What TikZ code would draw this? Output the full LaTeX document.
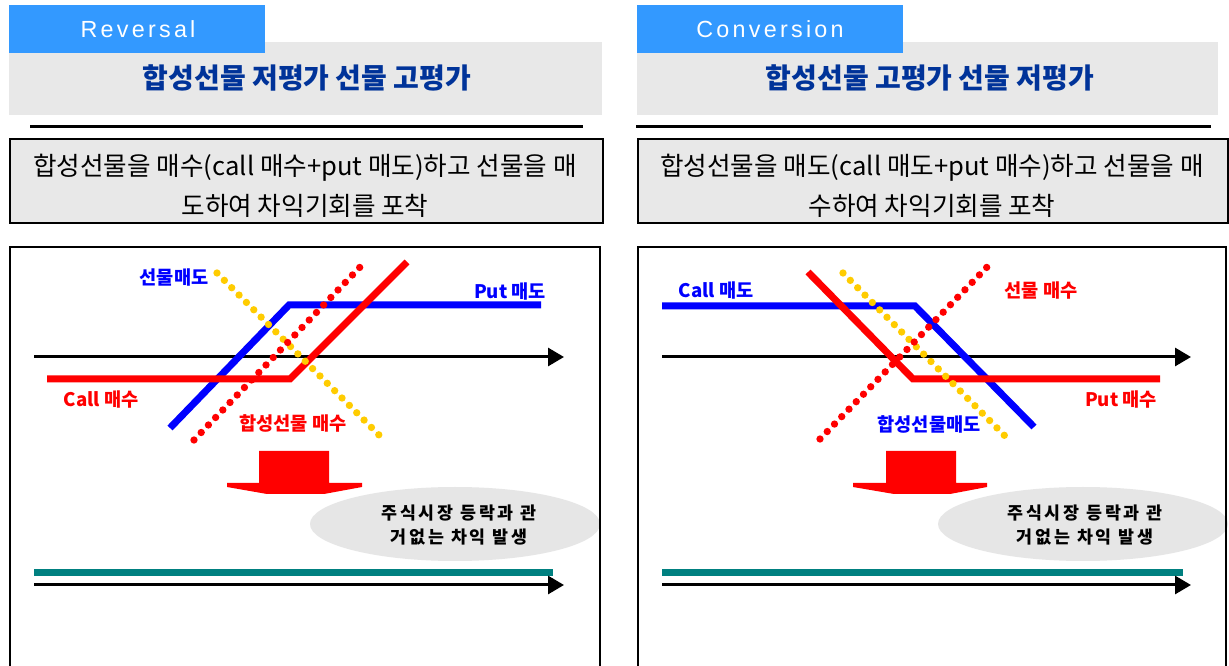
\documentclass[tikz,border=0pt]{standalone}
\usepackage{fontspec}
\setmainfont{Noto Sans CJK KR}
\newfontfamily\tabfont[LetterSpace=14]{Liberation Sans}
\newfontfamily\elfont[LetterSpace=16]{Noto Sans CJK KR}
\usetikzlibrary{arrows.meta}
\definecolor{tabblue}{HTML}{3399FF}
\definecolor{hgray}{HTML}{E8E8E8}
\definecolor{titleblue}{HTML}{003399}
\definecolor{lblue}{HTML}{0000FF}
\definecolor{lred}{HTML}{FF0000}
\definecolor{lyellow}{HTML}{FFCC00}
\definecolor{lteal}{HTML}{008080}
\definecolor{egray}{HTML}{E6E6E6}
\begin{document}
\begin{tikzpicture}[x=0.75pt,y=-0.75pt,
  tabbox/.style={fill=tabblue},
  headbox/.style={fill=hgray},
  tabtext/.style={text=white,font=\tabfont\fontsize{17.5}{20}\selectfont,inner sep=0pt},
  titletext/.style={text=titleblue,font=\bfseries\fontsize{21}{25}\selectfont,inner sep=0pt},
  sepline/.style={line width=2.25pt},
  descbox/.style={fill=hgray,draw=black,line width=2pt},
  desctext/.style={font=\fontsize{19.2}{22}\selectfont,inner sep=0pt},
  frame/.style={line width=2.2pt},
  axis/.style={line width=2.25pt,-{Triangle[length=12pt,width=13.5pt]}},
  solidred/.style={lred,line width=5.25pt},
  solidblue/.style={lblue,line width=5.25pt},
  dotred/.style={lred,line width=5.5pt,line cap=round,dash pattern=on 0pt off 7.8pt},
  dotyellow/.style={lyellow,line width=5.5pt,line cap=round,dash pattern=on 0pt off 7.8pt},
  lbl/.style={font=\bfseries\fontsize{14}{16}\selectfont,inner sep=0pt},
  blockarrow/.style={fill=lred},
  bubble/.style={fill=egray},
  bubbletext/.style={font=\elfont\bfseries\fontsize{13}{17.5}\selectfont,align=center,inner sep=0pt},
  tealline/.style={lteal,line width=5.25pt}
]
\useasboundingbox[fill=white] (0,0) rectangle (1229,666);

% ================= LEFT: Reversal =================
\fill[headbox] (9,42) rectangle (602,115);
\fill[tabbox] (9,5) rectangle (265,53);
\node[tabtext] (revtab) at (138,29) {Reversal};
\node[titletext] (ltitle) at (307,78) {합성선물 저평가 선물 고평가};
\draw[sepline] (30,127) -- (583,127);
\draw[descbox] (10,139) rectangle (603,223);
\node[desctext] (ldesc1) at (305,168) {합성선물을 매수(call 매수+put 매도)하고 선물을 매};
\node[desctext] (ldesc2) at (305,206) {도하여 차익기회를 포착};

% chart
\draw[axis] (34,357) -- (564,357);
\draw[solidblue] (170,428) -- (289,305) -- (541,305);
\draw[solidred] (47,379) -- (290,379) -- (407,262);
\draw[dotyellow] (217,273) -- (381,437);
\draw[dotred] (194,440) -- (363,264);
\node[lbl,text=lblue] (lfsell) at (174,278) {선물매도};
\node[lbl,text=lblue] (lputsell) at (510,292) {Put 매도};
\node[lbl,text=lred] (lcallbuy) at (101,400) {Call 매수};
\node[lbl,text=lred] (lsynbuy) at (293,423) {합성선물 매수};

\fill[blockarrow] (259,451) -- (329,451) -- (329,483) -- (362,483) -- (362,487)
  -- (324,494) -- (267,494) -- (227,487) -- (227,483) -- (259,483) -- cycle;
\fill[bubble] (455,524) ellipse [x radius=108.75pt, y radius=27.75pt];
\node[bubbletext] (lbubble) at (459,525) {주식시장 등락과 관\\거없는 차익 발생};

\draw[tealline] (34,573) -- (553,573);
\draw[axis] (34,585) -- (564,585);
\draw[frame] (10,666) -- (10,247) -- (600,247) -- (600,666);

% ================= RIGHT: Conversion =================
\fill[headbox] (637,42) rectangle (1218,115);
\fill[tabbox] (637,5) rectangle (903,53);
\node[tabtext] (contab) at (770,29) {Conversion};
\node[titletext] (rtitle) at (930,78) {합성선물 고평가 선물 저평가};
\draw[sepline] (636,127) -- (1211,127);
\draw[descbox] (638,139) rectangle (1228,223);
\node[desctext] (rdesc1) at (932,168) {합성선물을 매도(call 매도+put 매수)하고 선물을 매};
\node[desctext] (rdesc2) at (932,206) {수하여 차익기회를 포착};

% chart
\draw[axis] (662,357) -- (1191,357);
\draw[solidblue] (662,306) -- (915,306) -- (1034,427);
\draw[solidred] (808,272) -- (913,379) -- (1160,379);
\draw[dotyellow] (843,273) -- (1006,437);
\draw[dotred] (820,439) -- (990,264);
\node[lbl,text=lblue] (rcallsell) at (716,291) {Call 매도};
\node[lbl,text=lred] (rfbuy) at (1041,291) {선물 매수};
\node[lbl,text=lred] (rputbuy) at (1121,400) {Put 매수};
\node[lbl,text=lblue] (rsynsell) at (929,424) {합성선물매도};

\fill[blockarrow] (886,451) -- (956,451) -- (956,483) -- (987,483) -- (987,487)
  -- (950,494) -- (894,494) -- (853,487) -- (853,483) -- (886,483) -- cycle;
\fill[bubble] (1083,524) ellipse [x radius=108.75pt, y radius=27.75pt];
\node[bubbletext] (rbubble) at (1085,525) {주식시장 등락과 관\\거없는 차익 발생};

\draw[tealline] (662,573) -- (1183,573);
\draw[axis] (662,585) -- (1191,585);
\draw[frame] (638,666) -- (638,247) -- (1226,247) -- (1226,666);
\end{tikzpicture}
\end{document}
